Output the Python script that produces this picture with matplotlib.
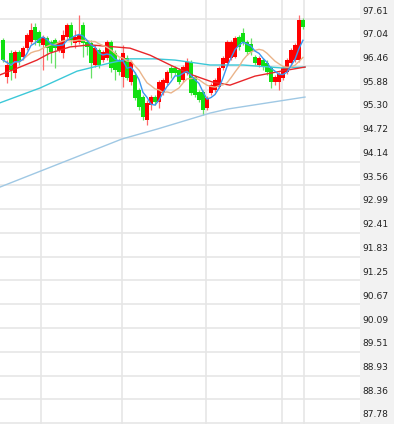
import matplotlib
matplotlib.use("Agg")
import matplotlib.pyplot as plt  # noqa: E402
import matplotlib.transforms as mtransforms  # noqa: E402
import numpy as np  # noqa: E402
import pandas as pd  # noqa: E402

# ── Data ──────────────────────────────────────────────────────────────────

opens = [97.10, 96.20, 96.78, 96.30, 96.81, 96.69, 96.90, 97.05, 97.42, 97.29,
         96.98, 97.15, 97.05, 97.10, 96.86, 96.78, 97.17, 97.46, 97.03, 97.05,
         97.46, 97.05, 97.03, 96.49, 96.86, 96.61, 96.66, 97.05, 96.78, 96.61,
         96.20, 96.66, 96.08, 96.25, 95.88, 95.71, 95.15, 95.52, 95.71, 95.59,
         95.81, 96.05, 96.42, 96.42, 96.37, 96.13, 96.30, 96.56, 96.20, 95.83,
         95.83, 95.44, 95.81, 95.88, 95.96, 96.42, 96.54, 96.66, 96.69, 97.17,
         97.27, 97.05, 97.00, 96.69, 96.49, 96.61, 96.54, 96.42, 96.08, 96.08,
         96.17, 96.32, 96.54, 96.61, 96.61, 97.59]
highs = [97.15, 96.61, 96.86, 96.86, 96.86, 96.95, 97.27, 97.51, 97.51, 97.34,
         97.22, 97.20, 97.10, 97.15, 97.10, 97.34, 97.51, 97.54, 97.34, 97.71,
         97.54, 97.10, 97.10, 96.98, 96.90, 96.86, 97.10, 97.10, 96.86, 96.66,
         96.98, 96.73, 96.61, 96.32, 95.93, 95.76, 95.64, 95.76, 95.76, 96.13,
         96.17, 96.37, 96.49, 96.47, 96.42, 96.49, 96.66, 96.61, 96.25, 95.88,
         95.88, 95.74, 96.05, 96.17, 96.47, 96.71, 97.10, 97.10, 97.20, 97.22,
         97.39, 97.10, 97.15, 96.73, 96.71, 96.66, 96.61, 96.47, 96.25, 96.32,
         96.47, 96.66, 96.90, 97.03, 97.71, 97.63]
lows = [96.56, 96.05, 96.13, 96.17, 96.49, 96.61, 96.86, 97.00, 96.98, 96.95,
        96.37, 96.61, 96.54, 96.42, 96.81, 96.66, 97.10, 96.98, 96.90, 97.00,
        96.69, 96.73, 96.17, 96.44, 96.42, 96.56, 96.61, 96.32, 96.13, 96.25,
        95.96, 96.13, 96.00, 95.64, 95.40, 95.15, 95.03, 95.40, 95.52, 95.44,
        95.76, 96.00, 96.17, 96.25, 96.03, 96.08, 96.25, 95.76, 95.71, 95.59,
        95.27, 95.40, 95.76, 95.83, 95.93, 96.37, 96.49, 96.61, 96.66, 96.86,
        96.98, 96.73, 96.73, 96.49, 96.44, 96.37, 96.25, 95.93, 96.00, 95.88,
        96.13, 96.27, 96.49, 96.56, 96.56, 97.37]
closes = [96.61, 96.49, 96.37, 96.81, 96.56, 96.90, 97.22, 97.34, 97.10, 97.03,
          97.17, 96.90, 96.81, 96.90, 97.05, 97.22, 97.46, 97.10, 97.17, 97.22,
          97.03, 96.93, 96.54, 96.90, 96.49, 96.81, 97.05, 96.42, 96.37, 96.32,
          96.78, 96.17, 96.56, 95.69, 95.47, 95.23, 95.57, 95.71, 95.59, 96.08,
          96.13, 96.32, 96.30, 96.30, 96.08, 96.44, 96.56, 95.81, 95.76, 95.64,
          95.40, 95.69, 96.00, 96.13, 96.42, 96.66, 97.05, 97.05, 97.15, 96.93,
          97.05, 96.81, 96.81, 96.54, 96.66, 96.44, 96.32, 96.08, 96.20, 96.27,
          96.42, 96.61, 96.86, 96.98, 97.59, 97.42]

# longer averages, read as sparse points (candle index, price)
ma30_x = [-0.75, 4.25, 8.5, 11.75, 16.75, 21.75, 28, 31.75, 36.75, 42.25,
          47.25, 52.25, 56.75, 63, 69.5, 75.5]
ma30_y = [96.25, 96.44, 96.61, 96.78, 96.93, 96.98, 96.93, 96.90, 96.73, 96.47,
          96.25, 96.08, 96.00, 96.22, 96.34, 96.44]
ma60_x = [-0.75, 9.25, 18.5, 26.75, 31.75, 38, 43, 51.75, 60, 69.5, 75.5]
ma60_y = [95.57, 95.93, 96.34, 96.54, 96.64, 96.64, 96.61, 96.49, 96.49, 96.42,
          96.44]
ma120_x = [-0.75, 29.75, 38.5, 46, 51.75, 56.25, 75.5]
ma120_y = [93.52, 94.69, 94.93, 95.15, 95.32, 95.42, 95.71]

y_ticks = [97.61, 97.04, 96.46, 95.88, 95.30, 94.72, 94.14, 93.56, 92.99,
           92.41, 91.83, 91.25, 90.67, 90.09, 89.51, 88.93, 88.36, 87.78]
x_grid = [9.4, 29.7, 50.7, 69.7, 75.25]

UP, DOWN = "#ff0000", "#11e011"
UP_WICK, DOWN_WICK = "#ff6a6a", "#66e066"
GRID = "#e6e6e6"

# ── Chart ─────────────────────────────────────────────────────────────────

fig = plt.figure(figsize=(3.94, 4.24), dpi=100)
ax = fig.add_axes([0, 0, 360 / 394, 1])
panel = fig.add_axes([360 / 394, 0, 34 / 394, 1])

ylim = (87.754, 98.072)
ax.set_xlim(-0.75, 89.25)
ax.set_ylim(*ylim)
for s in ax.spines.values():
    s.set_visible(False)
ax.set_xticks([])
ax.set_yticks([])

for v in y_ticks:
    ax.axhline(v, color=GRID, lw=1.2, zorder=0)
for v in x_grid:
    ax.axvline(v, color=GRID, lw=1.2, zorder=0)

df = pd.DataFrame({"open": opens, "high": highs, "low": lows, "close": closes})
x = np.arange(len(df))
up = df["close"] >= df["open"]
body_lo = np.minimum(df["open"], df["close"])
body_h = np.maximum((df["close"] - df["open"]).abs(), 0.02)

ax.vlines(x[up], df["low"][up], df["high"][up], color=UP_WICK, lw=0.9, zorder=2)
ax.vlines(x[~up], df["low"][~up], df["high"][~up], color=DOWN_WICK, lw=0.9, zorder=2)
ax.bar(x[up], body_h[up], bottom=body_lo[up], width=0.85, color=UP, zorder=3)
ax.bar(x[~up], body_h[~up], bottom=body_lo[~up], width=0.85, color=DOWN, zorder=3)

ma5 = df["close"].rolling(5, min_periods=1).mean()
ma10 = df["close"].rolling(10, min_periods=1).mean()
ax.plot(ma120_x, ma120_y, color="#9fc8e4", lw=1.0, zorder=4)
ax.plot(ma60_x, ma60_y, color="#3cc8d8", lw=1.0, zorder=4)
ax.plot(ma30_x, ma30_y, color="#e8262a", lw=1.0, zorder=4)
ax.plot(x, ma10, color="#eab48a", lw=1.0, zorder=4)
ax.plot(x, ma5, color="#3a96f0", lw=1.0, zorder=4)

# right-hand price panel
panel.set_facecolor("#f2f2f2")
panel.set_xlim(0, 1)
panel.set_ylim(*ylim)
panel.set_xticks([])
panel.set_yticks([])
for s in panel.spines.values():
    s.set_visible(False)
offset = mtransforms.offset_copy(panel.transData, fig=fig, x=0, y=2.5, units="points")
for v in y_ticks:
    panel.text(0.06, v, f"{v:.2f}", transform=offset, ha="left", va="bottom",
               fontsize=6.6, color="#222222", family="DejaVu Sans")

fig.savefig("out.png", dpi=100)
